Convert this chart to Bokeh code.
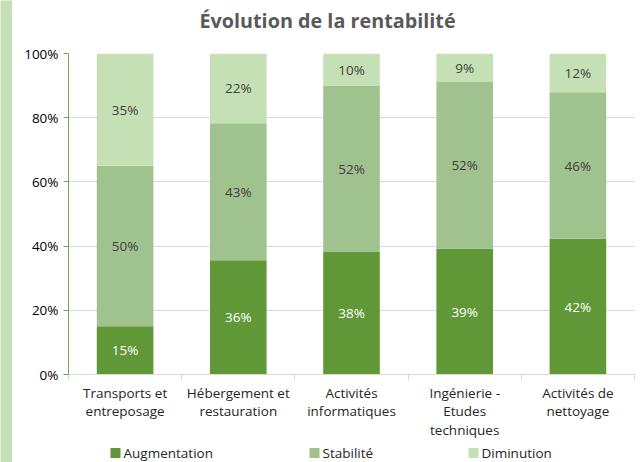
from bokeh.plotting import figure
from bokeh.layouts import row, column
from bokeh.models import ColumnDataSource, FixedTicker, PrintfTickFormatter
from bokeh.core.properties import value
from bokeh.embed import file_html
from bokeh.resources import INLINE

title = "Évolution de la rentabilité"
categories = ["Transports et\nentreposage", "Hébergement et\nrestauration", "Activités\ninformatiques",
              "Ingénierie -\nEtudes\ntechniques", "Activités de\nnettoyage"]
series = ["Augmentation", "Stabilité", "Diminution"]
augmentation = [15.0, 35.6, 38.3, 39.2, 42.3]
stabilite = [50.0, 42.7, 51.7, 51.9, 45.6]
diminution = [35.0, 21.7, 10.0, 8.9, 12.1]
y_ticks = [0, 20, 40, 60, 80, 100]

colors = ["#609838", "#a0c28e", "#c5e0b4"]
label_colors = ["white", "#404040", "#404040"]
STRIP = "#c5e0b4"
FONT = "Open Sans"
FS = "13.5px"
W = 629
BL, BR = 56, 7  # main plot borders (frames of the column are aligned)

def bare(width, height):
    # pixel-mapped helper figure; its frame is aligned with the main plot frame
    f = figure(width=width, height=height, output_backend="svg", toolbar_location=None,
               x_axis_location=None, y_axis_location=None, min_border=0,
               x_range=(BL, width - BR), y_range=(0, height))
    f.outline_line_color = None
    f.grid.grid_line_color = None
    return f

# title strip
TH = 43
tf = bare(W, TH)
tf.text(x=[315], y=[TH - 20], text=[title], text_align="center", text_baseline="middle",
        text_font=value(FONT), text_font_size="19.8px", text_font_style="bold", text_color="#595959")

n = len(categories)
xs = [i + 0.5 for i in range(n)]
data = {"x": xs, series[0]: augmentation, series[1]: stabilite, series[2]: diminution}
src = ColumnDataSource(data)

PH = 400
p = figure(width=W, height=PH, x_range=(0, n), y_range=(0, 100),
           output_backend="svg", toolbar_location=None,
           min_border_left=BL, min_border_right=BR, min_border_top=10, min_border_bottom=69)
p.outline_line_color = None

p.vbar_stack(series, x="x", width=0.5, source=src, color=colors, line_color=None)

# data labels
vals = [augmentation, stabilite, diminution]
bottoms = [0.0] * n
for k, v in enumerate(vals):
    mids = [bottoms[i] + v[i] / 2 for i in range(n)]
    texts = ["%d%%" % round(v[i]) for i in range(n)]
    p.text(x=xs, y=mids, text=texts, text_align="center", text_baseline="middle",
           text_font=value(FONT), text_font_size=FS, text_color=label_colors[k])
    bottoms = [bottoms[i] + v[i] for i in range(n)]

# y axis
p.yaxis.ticker = FixedTicker(ticks=y_ticks)
p.yaxis.formatter = PrintfTickFormatter(format="%d%%")
p.yaxis.axis_line_color = "#6fa84a"
p.yaxis.major_tick_line_color = "#6fa84a"
p.yaxis.major_tick_in = 0
p.yaxis.major_tick_out = 5
p.yaxis.minor_tick_line_color = None
p.yaxis.major_label_text_font = FONT
p.yaxis.major_label_text_font_size = FS
p.yaxis.major_label_text_color = "#000000"
p.yaxis.major_label_standoff = 5

# x axis
p.xaxis.ticker = FixedTicker(ticks=xs, minor_ticks=list(range(n + 1)))
p.xaxis.major_label_overrides = {x: c for x, c in zip(xs, categories)}
p.xaxis.axis_line_color = "#d9d9d9"
p.xaxis.major_tick_line_color = None
p.xaxis.minor_tick_line_color = "#d9d9d9"
p.xaxis.minor_tick_in = 0
p.xaxis.minor_tick_out = 6
p.xaxis.major_label_text_font = FONT
p.xaxis.major_label_text_font_size = FS
p.xaxis.major_label_text_line_height = 1.05
p.xaxis.major_label_text_color = "#262626"
p.xaxis.major_label_standoff = 3

p.xgrid.grid_line_color = None
p.ygrid.grid_line_color = "#d9d9d9"
p.ygrid.ticker = FixedTicker(ticks=y_ticks)

# legend strip
LH = 462 - TH - PH
legend_left = [98, 297, 456]
lg = bare(W, LH)
ly = [LH / 2] * len(series)
lg.rect(x=[l + 5 for l in legend_left], y=ly, width=10, height=10, fill_color=colors, line_color=None)
lg.text(x=[l + 13 for l in legend_left], y=ly, text=series, text_align="left", text_baseline="middle",
        text_font=value(FONT), text_font_size=FS, text_color="#262626")

# decorative left strip
st = figure(width=12, height=462, output_backend="svg", toolbar_location=None,
            x_axis_location=None, y_axis_location=None, min_border=0,
            x_range=(0, 1), y_range=(0, 1))
st.outline_line_color = None
st.grid.grid_line_color = None
st.background_fill_color = STRIP
st.border_fill_color = STRIP

layout = row(st, column(tf, p, lg, spacing=0), spacing=0)

open("out.html", "w").write(file_html(layout, INLINE))
